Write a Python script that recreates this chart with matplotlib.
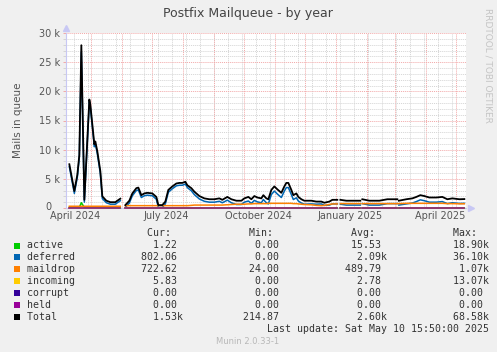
import matplotlib
matplotlib.use("Agg")
import matplotlib.pyplot as plt
import matplotlib.dates as mdates
import numpy as np
import pandas as pd
from matplotlib.patches import Rectangle
from matplotlib.ticker import MultipleLocator, FuncFormatter

nan = np.nan

# days counted from 2024-04-04, values in thousands of mails
days = [5, 10, 13, 15, 17, 20, 25, 26, 30, 31,
        33, 36, 38, 42, 46, 51, 53, 56, 58, 61,
        65, 68, 72, 74, 77, 80, 83, 88, 92, 94,
        98, 101, 104, 108, 112, 115, 118, 121, 123, 127,
        130, 135, 140, 145, 150, 155, 158, 162, 163, 167,
        172, 177, 180, 184, 187, 190, 193, 197, 199, 202,
        204, 207, 210, 213, 217, 220, 222, 224, 227, 229,
        232, 234, 237, 240, 247, 252, 257, 260, 265, 268,
        273, 274.5, 276, 282, 288, 296, 297, 298, 305, 315,
        323, 333, 333.5, 334.5, 342, 348, 352, 356, 360, 365,
        372, 378, 383, 388, 395, 400]

total_k = [7.5, 2.9, 5.7, 9.1, 27.9, 1.4, 18.6, 17.7, 10.9, 11.4,
           9.7, 6.3, 2.0, 1.25, 1.0, 1.0, 1.25, 1.6, nan, 0.5,
           1.25, 2.5, 3.4, 3.5, 2.2, 2.5, 2.6, 2.5, 1.9, 0.5,
           0.5, 1.1, 3.1, 3.7, 4.2, 4.3, 4.3, 4.5, 3.9, 3.4,
           2.8, 2.05, 1.65, 1.5, 1.5, 1.65, 1.4, 1.8, 1.9, 1.5,
           1.25, 1.25, 1.65, 1.9, 1.5, 2.05, 1.8, 1.65, 2.2, 1.65,
           1.5, 3.1, 3.7, 3.2, 2.6, 3.7, 4.3, 4.3, 3.1, 2.2,
           2.5, 1.9, 1.5, 1.25, 1.25, 1.1, 1.1, 0.9, 1.1, 1.4,
           1.4, nan, 1.4, 1.25, 1.25, 1.25, nan, 1.5, 1.25, 1.25,
           1.5, 1.5, nan, 1.25, 1.5, 1.65, 1.9, 2.2, 2.05, 1.8,
           1.8, 1.9, 1.5, 1.65, 1.5, 1.53]

deferred_k = [7.1, 2.5, 5.3, 8.7, 26.7, 1.0, 18.2, 17.3, 10.5, 11.0,
              9.3, 5.9, 1.6, 0.9, 0.65, 0.65, 0.9, 1.25, nan, 0.1,
              0.85, 2.1, 3.0, 3.1, 1.8, 2.1, 2.2, 2.1, 1.5, 0.1,
              0.1, 0.7, 2.7, 3.3, 3.8, 3.9, 3.9, 4.1, 3.5, 2.95,
              2.3, 1.55, 1.15, 1.0, 1.0, 1.15, 0.9, 1.25, 1.35, 0.9,
              0.6, 0.6, 1.0, 1.2, 0.8, 1.3, 1.05, 0.9, 1.45, 0.9,
              0.7, 2.3, 2.9, 2.4, 1.8, 2.9, 3.5, 3.5, 2.3, 1.45,
              1.75, 1.2, 0.85, 0.65, 0.7, 0.65, 0.7, 0.45, 0.5, 0.7,
              0.7, nan, 0.65, 0.5, 0.5, 0.5, nan, 0.75, 0.5, 0.5,
              0.75, 0.75, nan, 0.5, 0.7, 0.85, 1.1, 1.4, 1.25, 1.0,
              1.0, 1.1, 0.75, 0.9, 0.78, 0.8]

maildrop_k = [0.3, 0.3, 0.3, 0.3, 0.3, 0.3, 0.3, 0.3, 0.3, 0.3,
              0.3, 0.3, 0.3, 0.3, 0.3, 0.3, 0.3, 0.3, nan, 0.4,
              0.4, 0.4, 0.4, 0.4, 0.4, 0.4, 0.4, 0.4, 0.4, 0.4,
              0.4, 0.4, 0.4, 0.4, 0.4, 0.4, 0.4, 0.4, 0.4, 0.45,
              0.5, 0.5, 0.5, 0.5, 0.5, 0.5, 0.5, 0.55, 0.55, 0.6,
              0.65, 0.65, 0.65, 0.7, 0.7, 0.75, 0.75, 0.75, 0.75, 0.75,
              0.8, 0.8, 0.8, 0.8, 0.8, 0.8, 0.8, 0.8, 0.8, 0.75,
              0.75, 0.7, 0.65, 0.6, 0.55, 0.45, 0.4, 0.45, 0.6, 0.7,
              0.7, nan, 0.75, 0.75, 0.75, 0.75, nan, 0.75, 0.75, 0.75,
              0.75, 0.75, nan, 0.75, 0.8, 0.8, 0.8, 0.8, 0.8, 0.8,
              0.8, 0.8, 0.75, 0.75, 0.72, 0.72]

active_k = [0.1, 0.1, 0.1, 0.1, 0.9, 0.1, 0.1, 0.1, 0.1, 0.1,
            0.1, 0.1, 0.05, 0.02, 0.02, 0.02, 0.02, 0.02, nan, 0.0,
            0, 0, 0, 0, 0, 0, 0, 0, 0, 0,
            0, 0, 0, 0, 0, 0, 0, 0, 0, 0,
            0, 0, 0, 0, 0, 0, 0, 0, 0, 0,
            0, 0, 0, 0, 0, 0, 0, 0, 0, 0,
            0, 0, 0, 0, 0, 0, 0, 0, 0, 0,
            0, 0, 0, 0, 0, 0, 0, 0, 0, 0,
            0, nan, 0, 0, 0, 0, nan, 0, 0, 0,
            0, 0, nan, 0, 0, 0, 0, 0, 0, 0,
            0, 0, 0, 0, 0, 0]

# incoming / corrupt / held stay at zero on the yearly view
gap_days = [58, 274.5, 297, 333.5]
zero_k = [nan if d in gap_days else 0.0 for d in days]
incoming_k = zero_k
corrupt_k = zero_k
held_k = zero_k

x_label_dates = ["2024-04-15", "2024-07-15", "2024-10-15", "2025-01-15", "2025-04-15"]
x_labels = ["April 2024", "July 2024", "October 2024", "January 2025", "April 2025"]

names = ["active", "deferred", "maildrop", "incoming", "corrupt", "held", "Total"]
colors = ["#00cc00", "#0066b3", "#ff8000", "#ffcc00", "#330099", "#990099", "#000000"]
cur = ["1.22", "802.06", "722.62", "5.83", "0.00", "0.00", "1.53k"]
vmin = ["0.00", "0.00", "24.00", "0.00", "0.00", "0.00", "214.87"]
vavg = ["15.53", "2.09k", "489.79", "2.78", "0.00", "0.00", "2.60k"]
vmax = ["18.90k", "36.10k", "1.07k", "13.07k", "0.00", "0.00", "68.58k"]

W, H = 497, 352
fig = plt.figure(figsize=(W / 100, H / 100), dpi=100, facecolor="#f0f0f0")
ax = fig.add_axes([66 / W, 1 - 208 / H, 400 / W, 175 / H])
ax.set_facecolor("white")

base = pd.Timestamp("2024-04-04")
x = mdates.date2num([(base + pd.Timedelta(days=d)).to_pydatetime() for d in days])
start = pd.Timestamp("2024-04-05 15:50").to_pydatetime()
end = pd.Timestamp("2025-05-10 15:50").to_pydatetime()

series = [active_k, deferred_k, maildrop_k, incoming_k, corrupt_k, held_k, total_k]
for vals, c, n in zip(series, colors, names):
    lw = 1.3 if n == "Total" else 1.1
    alpha = 0.6 if n in ("held", "corrupt") else 1.0
    ax.plot(x, vals, color=c, lw=lw, alpha=alpha, zorder=3, clip_on=False)

ax.set_xlim(mdates.date2num(start), mdates.date2num(end))
ax.set_ylim(0, 30)

# grid: red at month starts and every 5k, grey every two weeks and 1k
red = "#f2a8a8"
grey = "#d4d4d4"
for d in pd.date_range("2024-04-14", "2025-05-10", freq="14D"):
    ax.axvline(mdates.date2num(d.to_pydatetime()), color=grey, lw=0.7, ls=(0, (1, 1)), zorder=1)
for d in pd.date_range("2024-05-01", "2025-05-01", freq="MS"):
    ax.axvline(mdates.date2num(d.to_pydatetime()), color=red, lw=0.7, ls=(0, (1, 1)), zorder=1)

ax.yaxis.set_major_locator(MultipleLocator(5))
ax.yaxis.set_minor_locator(MultipleLocator(1))
# the "0" label sits a little further left, drawn separately below
ax.yaxis.set_major_formatter(FuncFormatter(lambda v, p: "" if v == 0 else "%d k" % v))
ax.grid(which="major", axis="y", color=red, lw=0.7, ls=(0, (1, 1)), zorder=1)
ax.grid(which="minor", axis="y", color=grey, lw=0.7, ls=(0, (1, 1)), zorder=1)
ax.tick_params(axis="y", which="major", length=2, width=0.7, color=red, pad=2,
               labelsize=7, labelcolor="#555555")
ax.tick_params(axis="y", which="minor", length=2, width=0.7, color=grey)
ax.text(-15 / 400, 1.5 / 175, "0", transform=ax.transAxes, ha="right", va="center",
        fontsize=7, color="#555555")

ax.set_xticks(mdates.date2num([pd.Timestamp(s).to_pydatetime() for s in x_label_dates]))
ax.set_xticklabels(x_labels)
ax.tick_params(axis="x", length=0, pad=2, labelsize=7, labelcolor="#555555")

for s in ["top", "right"]:
    ax.spines[s].set_visible(False)
for s in ["left", "bottom"]:
    ax.spines[s].set_color("#c8c8f4")
    ax.spines[s].set_linewidth(0.8)
ax.plot([0], [1.03], marker="^", ms=4, color="#c8c8f4", transform=ax.transAxes, clip_on=False)
ax.plot([1.012], [0], marker=">", ms=4, color="#c8c8f4", transform=ax.transAxes, clip_on=False)

ax.set_ylabel("Mails in queue", fontsize=7.5, color="#555555", labelpad=11.5)

fig.text(248 / W, 1 - 13 / H, "Postfix Mailqueue - by year", ha="center", va="center",
         fontsize=9, color="#444444")
fig.text(488 / W, 1 - 65 / H, "RRDTOOL / TOBI OETIKER", ha="center", va="center",
         rotation=270, fontsize=6.5, color="#c4c4c4")

# legend block in monospace, laid out by character columns
x0 = 26.7


def put(buf, end_col, text):
    for i, ch in enumerate(text):
        buf[end_col - len(text) + i] = ch


def mono(y, text, color="#333333"):
    fig.text(x0 / W, 1 - y / H, text, ha="left", va="center", family="DejaVu Sans Mono",
             fontsize=7.08, color=color)


hdr = [" "] * 80
for col, t in zip([24, 41, 58, 75], ["Cur:", "Min:", "Avg:", "Max:"]):
    put(hdr, col, t)
mono(233.3, "".join(hdr).rstrip())

for i, n in enumerate(names):
    y = 245.5 + i * 11.95
    buf = [" "] * 80
    put(buf, len(n), n)
    for col, s in zip([25, 42, 59, 76], [cur[i], vmin[i], vavg[i], vmax[i]]):
        if s.endswith("k"):
            put(buf, col, s[:-1])
            buf[col] = "k"
        else:
            put(buf, col, s)
    mono(y, "".join(buf).rstrip())
    fig.add_artist(Rectangle((14 / W, 1 - (y + 3) / H), 6 / W, 6 / H, transform=fig.transFigure,
                             facecolor=colors[i], edgecolor="none"))

upd = [" "] * 80
put(upd, 77, "Last update: Sat May 10 15:50:00 2025")
mono(329.3, "".join(upd).rstrip())

fig.text(248 / W, 1 - 341 / H, "Munin 2.0.33-1", ha="center", va="center",
         fontsize=6, color="#b8b8b8")

fig.savefig("out.png", dpi=100, facecolor=fig.get_facecolor())
